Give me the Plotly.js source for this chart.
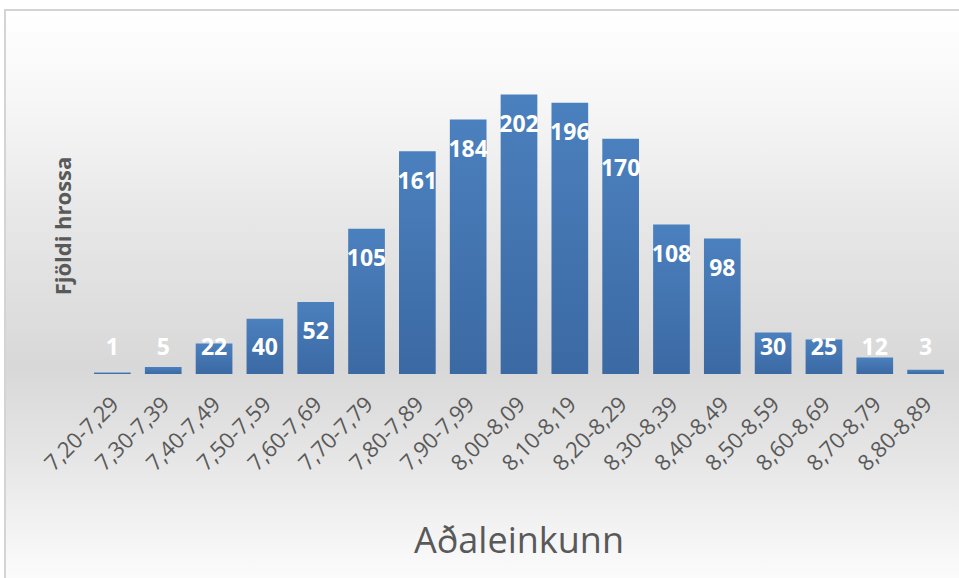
<!DOCTYPE html>
<html>
<head>
<meta charset="utf-8">
<script src="https://cdn.plot.ly/plotly-3.0.1.min.js"></script>
<style>
  html, body { margin: 0; padding: 0; background: #ffffff; }
  #frame {
    position: absolute; left: 4px; top: 9px; width: 960px; height: 575px;
    border-top: 2px solid #d4d4d4; border-left: 2px solid #d4d4d4;
    background: linear-gradient(to bottom, #ffffff 0%, #f7f7f7 15%, #e6e6e6 38%, #d8d8d8 62%, #e6e6e6 78%, #f8f8f8 95%, #fcfcfc 100%);
  }
  #chart { position: absolute; left: 0; top: 0; width: 959px; height: 578px; }
  #chart .trace.bars .point path { fill: url(#barGrad) !important; }
</style>
</head>
<body>
<svg width="0" height="0" style="position:absolute">
  <defs>
    <linearGradient id="barGrad" x1="0" y1="0" x2="0" y2="1">
      <stop offset="0%" stop-color="#4b80be"/>
      <stop offset="100%" stop-color="#3b69a3"/>
    </linearGradient>
  </defs>
</svg>
<div id="frame"></div>
<div id="chart"></div>
<script>
const categories = ["7,20-7,29","7,30-7,39","7,40-7,49","7,50-7,59","7,60-7,69","7,70-7,79","7,80-7,89","7,90-7,99","8,00-8,09","8,10-8,19","8,20-8,29","8,30-8,39","8,40-8,49","8,50-8,59","8,60-8,69","8,70-8,79","8,80-8,89"];
const counts = [1, 5, 22, 40, 52, 105, 161, 184, 202, 196, 170, 108, 98, 30, 25, 12, 3];
const xTitle = "Aðaleinkunn";
const yTitle = "Fjöldi hrossa";

// label placement: inside the bar end, but never lower than a minimum height
const labelY = counts.map(v => Math.max(v - 22.8, 18.2));

const bars = {
  type: "bar",
  x: categories,
  y: counts,
  marker: { color: "#4474b0", line: { width: 0 } },
  hoverinfo: "x+y"
};
const labels = {
  type: "scatter",
  mode: "text",
  x: categories,
  y: labelY,
  text: counts.map(String),
  textposition: "middle center",
  textfont: { family: "Open Sans, sans-serif", size: 23, color: "#ffffff", weight: "bold" },
  hoverinfo: "skip",
  showlegend: false
};

const layout = {
  width: 959, height: 578,
  margin: { l: 87, r: 8, t: 77.5, b: 203.7 },
  paper_bgcolor: "rgba(0,0,0,0)",
  plot_bgcolor: "rgba(0,0,0,0)",
  showlegend: false,
  bargap: 0.278,
  xaxis: {
    type: "category",
    range: [-0.5, 16.5],
    tickangle: -45,
    ticklabelstandoff: 12,
    tickfont: { family: "Open Sans, sans-serif", size: 22, color: "#595959" },
    showgrid: false, zeroline: false, showline: false, ticks: "",
    title: { text: xTitle, font: { family: "Open Sans, sans-serif", size: 36, color: "#595959" }, standoff: 52 },
    automargin: false
  },
  yaxis: {
    range: [0, 213.9],
    showgrid: false, zeroline: false, showline: false, ticks: "",
    showticklabels: false,
    title: { text: yTitle, font: { family: "Open Sans, sans-serif", size: 22, color: "#595959", weight: "bold" }, standoff: 8 },
    automargin: false
  },
  font: { family: "Open Sans, sans-serif" }
};

Plotly.newPlot("chart", [bars, labels], layout, { displayModeBar: false, staticPlot: true });
</script>
</body>
</html>
